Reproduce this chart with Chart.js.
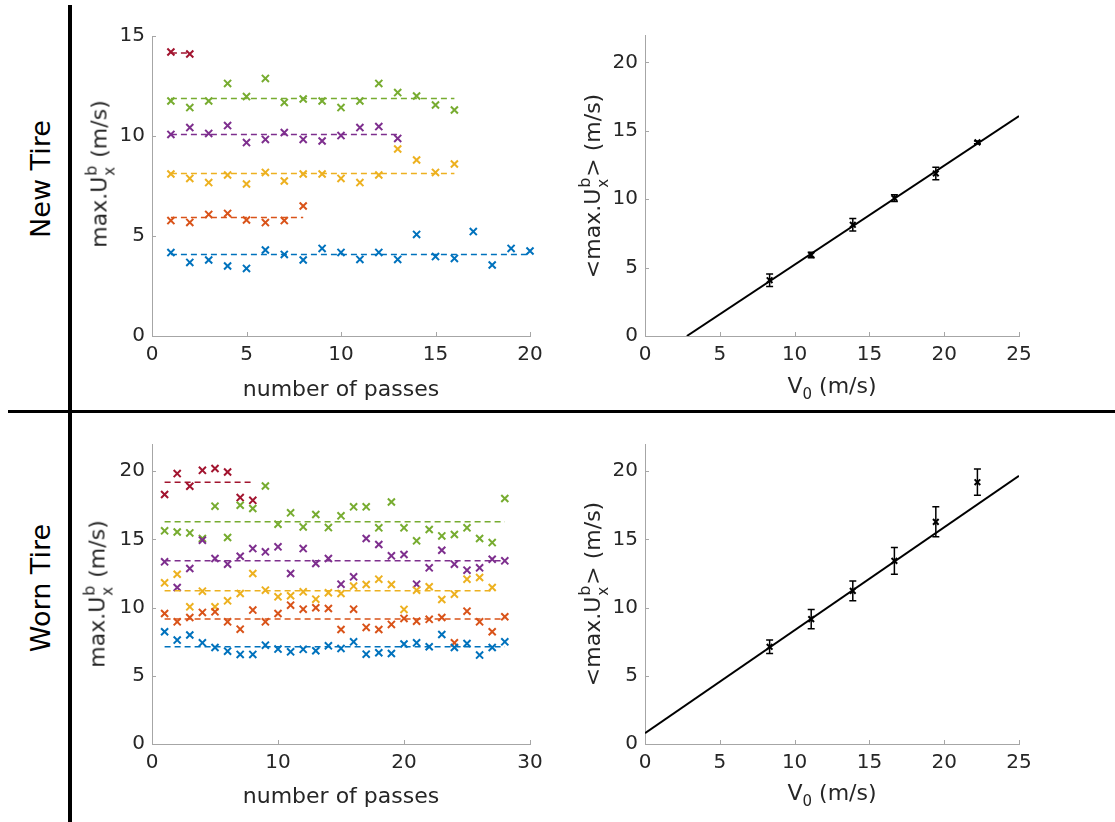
<!DOCTYPE html>
<html>
<head>
<meta charset="utf-8">
<script src="https://cdn.jsdelivr.net/npm/chart.js@4.4.1/dist/chart.umd.min.js"></script>
<style>
  body { margin: 0; background: #fff; width: 1115px; height: 822px; position: relative; overflow: hidden; font-family: "DejaVu Sans", sans-serif; color: #262626; }
  canvas { position: absolute; }
  .rule { position: absolute; background: #000; }
  .rot { position: absolute; white-space: nowrap; transform: translate(-50%, -50%) rotate(-90deg); }
  .row { font-size: 27px; color: #000; }
  .ytitle { font-size: 22px; }
  .xtitle { position: absolute; white-space: nowrap; transform: translate(-50%, -50%); font-size: 22px; }
  .ss { display: inline-block; position: relative; width: 12px; height: 0; }
  .ss .up { position: absolute; left: 1px; bottom: 7.5px; font-size: 16px; line-height: 16px; }
  .ss .dn { position: absolute; left: 1px; top: -4.5px; font-size: 15px; line-height: 15px; }
  sub { font-size: 15px; }
</style>
</head>
<body>
<div class="rule" style="left:68px;top:5px;width:4px;height:817px"></div>
<div class="rule" style="left:8px;top:410px;width:1107px;height:3px"></div>

<div class="rot row" style="left:40px;top:179px">New Tire</div>
<div class="rot row" style="left:40px;top:588px">Worn Tire</div>

<canvas id="newPasses" width="448" height="360" style="left:102px;top:16px"></canvas>
<canvas id="newMeans" width="444" height="361" style="left:595px;top:15px"></canvas>
<canvas id="wornPasses" width="448" height="360" style="left:102px;top:424px"></canvas>
<canvas id="wornMeans" width="444" height="360" style="left:595px;top:424px"></canvas>

<div class="rot ytitle" style="left:99px;top:174px">max.U<span class="ss"><span class="up">b</span><span class="dn">x</span></span> (m/s)</div>
<div class="rot ytitle" style="left:592px;top:186px">&lt;max.U<span class="ss"><span class="up">b</span><span class="dn">x</span></span>&gt; (m/s)</div>
<div class="rot ytitle" style="left:97px;top:594px">max.U<span class="ss"><span class="up">b</span><span class="dn">x</span></span> (m/s)</div>
<div class="rot ytitle" style="left:592px;top:594px">&lt;max.U<span class="ss"><span class="up">b</span><span class="dn">x</span></span>&gt; (m/s)</div>

<div class="xtitle" style="left:341px;top:388px">number of passes</div>
<div class="xtitle" style="left:832px;top:388px">V<sub>0</sub> (m/s)</div>
<div class="xtitle" style="left:341px;top:795px">number of passes</div>
<div class="xtitle" style="left:832px;top:795px">V<sub>0</sub> (m/s)</div>

<script>
// couleurs MATLAB par vitesse du véhicule
const runColors = ['#0072BD', '#D95319', '#EDB120', '#7E2F8E', '#77AC30', '#A2142F'];

// pneu neuf : max.U par passage, une liste par vitesse
const newBlue = [4.17, 3.68, 3.8, 3.5, 3.38, 4.3, 4.08, 3.8, 4.38, 4.18, 3.83, 4.18, 3.83, 5.08, 3.97, 3.88, 5.22, 3.55, 4.38, 4.25];
const newOrange = [5.77, 5.68, 6.08, 6.13, 5.8, 5.67, 5.77, 6.5];
const newYellow = [8.1, 7.88, 7.67, 8.05, 7.6, 8.18, 7.75, 8.1, 8.1, 7.88, 7.67, 8.05, 9.35, 8.8, 8.18, 8.6];
const newPurple = [10.08, 10.42, 10.13, 10.52, 9.67, 9.83, 10.17, 9.83, 9.75, 10.02, 10.42, 10.47, 9.88];
const newGreen = [11.75, 11.42, 11.75, 12.63, 11.97, 12.88, 11.68, 11.85, 11.75, 11.42, 11.75, 12.63, 12.17, 12.0, 11.55, 11.3];
const newRed = [14.2, 14.1];

// pneu usé
const wornBlue = [8.23, 7.62, 7.99, 7.42, 7.08, 6.81, 6.57, 6.57, 7.25, 6.96, 6.76, 6.94, 6.84, 7.2, 7.01, 7.49, 6.59, 6.69, 6.64, 7.33, 7.42, 7.13, 8.03, 7.08, 7.37, 6.52, 7.08, 7.49];
const wornOrange = [9.57, 8.96, 9.28, 9.65, 9.69, 8.96, 8.42, 9.82, 8.96, 9.57, 10.18, 9.89, 9.99, 9.94, 8.4, 9.89, 8.55, 8.4, 8.77, 9.21, 9.01, 9.14, 9.28, 7.42, 9.74, 8.96, 8.23, 9.33];
const wornYellow = [11.82, 12.45, 10.06, 11.21, 10.06, 10.5, 11.04, 12.5, 11.28, 10.79, 10.87, 11.16, 10.62, 11.09, 11.04, 11.58, 11.7, 12.09, 11.7, 9.87, 11.28, 11.53, 10.6, 10.99, 12.09, 12.21, 11.48];
const wornPurple = [13.36, 11.48, 12.87, 14.95, 13.6, 13.19, 13.77, 14.33, 14.09, 14.46, 12.5, 14.33, 13.24, 13.6, 11.72, 12.26, 15.07, 14.63, 13.8, 13.9, 11.72, 12.92, 14.21, 13.19, 12.75, 12.92, 13.55, 13.43];
const wornGreen = [15.63, 15.55, 15.48, 15.07, 17.44, 15.14, 17.51, 17.27, 18.92, 16.12, 16.95, 15.92, 16.83, 15.87, 16.73, 17.39, 17.39, 15.85, 17.75, 15.85, 14.9, 15.73, 15.26, 15.36, 15.85, 15.07, 14.77, 18.0];
const wornRed = [18.3, 19.83, 18.9, 20.07, 20.2, 19.95, 18.07, 17.87];

// moyennes (lignes pointillées + points de droite)
const speeds = [8.33, 11.11, 13.89, 16.67, 19.44, 22.22];
const newMeanVals = [4.08, 5.92, 8.13, 10.08, 11.88, 14.15];
const newErr = [0.46, 0.2, 0.45, 0.25, 0.46, 0.1];
const wornMeanVals = [7.13, 9.16, 11.23, 13.43, 16.29, 19.2];
const wornErr = [0.49, 0.7, 0.72, 0.98, 1.1, 0.96];

// droites d'ajustement
const newFitX = [2.8, 25];
const newFitY = [0, 16.08];
const wornFitX = [0, 25];
const wornFitY = [0.8, 19.66];

// petites graduations vers l'intérieur
const innerTicks = {
    id: 'innerTicks',
    afterDraw(chart) {
        const { ctx, chartArea: a, scales: { x, y } } = chart;
        ctx.save();
        ctx.strokeStyle = '#a6a6a6';
        ctx.lineWidth = 1;
        x.ticks.forEach(t => {
            const px = Math.round(x.getPixelForValue(t.value)) + 0.5;
            ctx.beginPath(); ctx.moveTo(px, a.bottom); ctx.lineTo(px, a.bottom - 4); ctx.stroke();
        });
        y.ticks.forEach(t => {
            const py = Math.round(y.getPixelForValue(t.value)) + 0.5;
            ctx.beginPath(); ctx.moveTo(a.left, py); ctx.lineTo(a.left + 4, py); ctx.stroke();
        });
        ctx.restore();
    }
};

// barres d'erreur
const errorBars = {
    id: 'errorBars',
    afterDatasetsDraw(chart, args, opts) {
        if (!opts.errors) return;
        const { ctx, scales: { y } } = chart;
        const ds = chart.data.datasets[opts.dataset];
        const meta = chart.getDatasetMeta(opts.dataset);
        ctx.save();
        ctx.strokeStyle = '#000';
        ctx.lineWidth = 1.5;
        meta.data.forEach((pt, i) => {
            const v = ds.data[i].y;
            const top = y.getPixelForValue(v + opts.errors[i]);
            const bot = y.getPixelForValue(v - opts.errors[i]);
            ctx.beginPath();
            ctx.moveTo(pt.x, top); ctx.lineTo(pt.x, bot);
            ctx.moveTo(pt.x - 3.5, top); ctx.lineTo(pt.x + 3.5, top);
            ctx.moveTo(pt.x - 3.5, bot); ctx.lineTo(pt.x + 3.5, bot);
            ctx.stroke();
        });
        ctx.restore();
    }
};

Chart.register(innerTicks, errorBars);

function axis(max, step, fitSize, horizontal) {
    return {
        type: 'linear',
        min: 0,
        max: max,
        border: { display: true, color: '#a6a6a6', width: 1 },
        grid: { drawOnChartArea: false, drawTicks: false },
        ticks: {
            stepSize: step,
            includeBounds: false,
            padding: 7,
            color: '#262626',
            font: { family: 'DejaVu Sans', size: 20 }
        },
        afterFit: s => { if (horizontal) s.height = fitSize; else s.width = fitSize; }
    };
}

function baseOptions(xMax, xStep, yMax, yStep) {
    return {
        responsive: false,
        animation: false,
        layout: { padding: { top: 20, right: 20, left: 0, bottom: 0 } },
        plugins: { legend: { display: false }, tooltip: { enabled: false } },
        scales: {
            x: axis(xMax, xStep, 40, true),
            y: axis(yMax, yStep, 50, false)
        }
    };
}

function passSets(lists, means) {
    const sets = [];
    lists.forEach((vals, i) => {
        sets.push({
            data: [{ x: 1, y: means[i] }, { x: vals.length, y: means[i] }],
            showLine: true,
            borderColor: runColors[i],
            borderDash: [6, 4],
            borderWidth: 1.5,
            pointRadius: 0
        });
        sets.push({
            data: vals.map((v, k) => ({ x: k + 1, y: v })),
            clip: false,
            pointStyle: 'crossRot',
            pointRadius: 5,
            borderColor: runColors[i],
            backgroundColor: runColors[i],
            pointBorderWidth: 2
        });
    });
    return sets;
}

function meanSets(means, fitX, fitY) {
    return [
        {
            data: fitX.map((x, i) => ({ x: x, y: fitY[i] })),
            showLine: true,
            borderColor: '#000',
            borderWidth: 2,
            pointRadius: 0
        },
        {
            data: speeds.map((s, i) => ({ x: s, y: means[i] })),
            pointStyle: 'crossRot',
            pointRadius: 4,
            borderColor: '#000',
            backgroundColor: '#000',
            pointBorderWidth: 2
        }
    ];
}

new Chart(document.getElementById('newPasses'), {
    type: 'scatter',
    data: { datasets: passSets([newBlue, newOrange, newYellow, newPurple, newGreen, newRed], newMeanVals) },
    options: baseOptions(20, 5, 15, 5)
});

const newMeanOpts = baseOptions(25, 5, 22, 5);
newMeanOpts.plugins.errorBars = { dataset: 1, errors: newErr };
new Chart(document.getElementById('newMeans'), {
    type: 'scatter',
    data: { datasets: meanSets(newMeanVals, newFitX, newFitY) },
    options: newMeanOpts
});

new Chart(document.getElementById('wornPasses'), {
    type: 'scatter',
    data: { datasets: passSets([wornBlue, wornOrange, wornYellow, wornPurple, wornGreen, wornRed], wornMeanVals) },
    options: baseOptions(30, 10, 22, 5)
});

const wornMeanOpts = baseOptions(25, 5, 22, 5);
wornMeanOpts.plugins.errorBars = { dataset: 1, errors: wornErr };
new Chart(document.getElementById('wornMeans'), {
    type: 'scatter',
    data: { datasets: meanSets(wornMeanVals, wornFitX, wornFitY) },
    options: wornMeanOpts
});
</script>
</body>
</html>
